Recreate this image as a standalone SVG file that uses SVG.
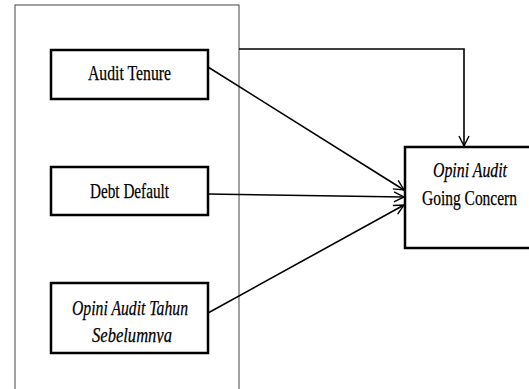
<svg xmlns="http://www.w3.org/2000/svg" width="529" height="389" viewBox="0 0 529 389">
<style>
.box{fill:#fff;stroke:#000;stroke-width:2.5}
.t{font-family:"Liberation Serif","Times New Roman",serif;font-size:21px;fill:#000;stroke:#000;stroke-width:0.25}
.i{font-style:italic}
.c{fill:none;stroke:#000;stroke-width:1.6}
</style>
<defs>
<marker id="arr" viewBox="0 0 12 12" refX="11" refY="6" markerWidth="12" markerHeight="12" markerUnits="userSpaceOnUse" orient="auto">
<path d="M1,1 L11,6 L1,11" fill="none" stroke="#000" stroke-width="1.4"/>
</marker>
<clipPath id="clipS"><rect x="0" y="0" width="529" height="343"/></clipPath>
</defs>
<g id="frame"><rect x="15" y="5" width="224" height="400" fill="none" stroke="#444" stroke-width="1"/></g>
<g id="connectors">
<path class="c" d="M239,49 H464 V146" stroke-width="1.1" marker-end="url(#arr)"/>
<line class="c" x1="208" y1="67" x2="404" y2="190" marker-end="url(#arr)"/>
<line class="c" x1="208" y1="194" x2="404" y2="197" marker-end="url(#arr)"/>
<line class="c" x1="208" y1="313" x2="404" y2="205" marker-end="url(#arr)"/>
</g>
<g id="node-audit-tenure">
<rect class="box" x="51" y="50" width="157" height="49"/>
<text class="t" x="88" y="80" textLength="83" lengthAdjust="spacingAndGlyphs">Audit Tenure</text>
</g>
<g id="node-debt-default">
<rect class="box" x="51" y="167" width="157" height="48"/>
<text class="t" x="90" y="198" textLength="79" lengthAdjust="spacingAndGlyphs">Debt Default</text>
</g>
<g id="node-opini-tahun">
<rect class="box" x="51" y="283" width="157" height="70"/>
<text class="t i" x="72" y="315" textLength="116" lengthAdjust="spacingAndGlyphs">Opini Audit Tahun</text>
<text class="t i" x="92" y="342" textLength="80" lengthAdjust="spacingAndGlyphs" clip-path="url(#clipS)">Sebelumnya</text>
</g>
<g id="node-going-concern">
<rect class="box" x="405" y="147" width="140" height="101"/>
<text class="t i" x="433" y="177" textLength="74" lengthAdjust="spacingAndGlyphs">Opini Audit</text>
<text class="t" x="422" y="205" textLength="95" lengthAdjust="spacingAndGlyphs">Going Concern</text>
</g>
</svg>
